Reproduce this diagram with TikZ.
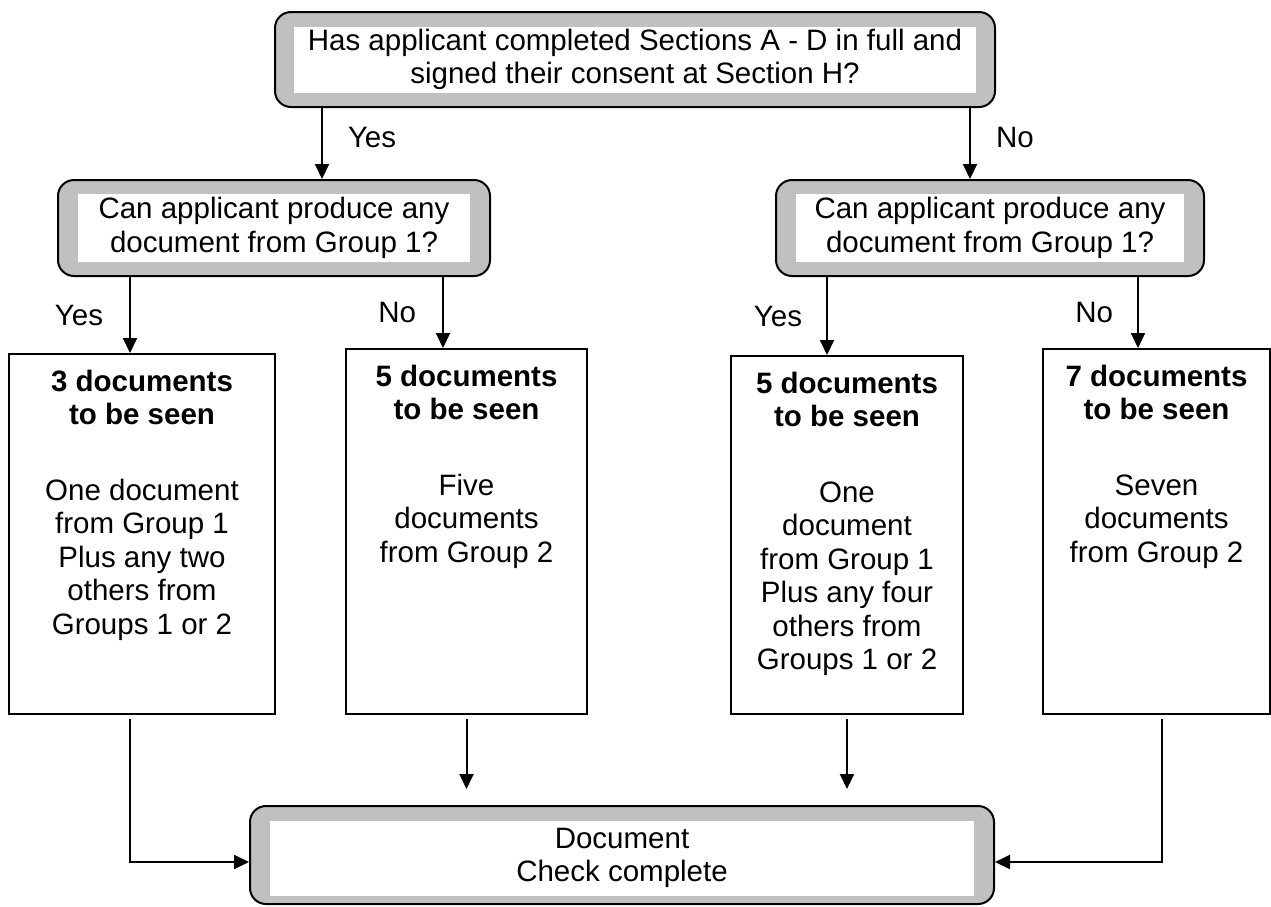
\documentclass[tikz,border=0pt]{standalone}
\usepackage{fontspec}
\setmainfont{Liberation Sans}
\usetikzlibrary{positioning,arrows.meta}
\definecolor{abu}{HTML}{C0C0C0}
\begin{document}
\begin{tikzpicture}[x=1pt, y=-1pt, line width=2pt,
      font=\fontsize{29.5}{33.5}\selectfont,
      bingkai/.style={draw, fill=abu, rounded corners=16pt},
      isi/.style={fill=white, align=center, inner sep=0pt},
      kotak/.style={draw, fill=white},
      teks/.style={align=center, inner sep=0pt},
      ket/.style={inner sep=0pt},
      panah/.style={-{Triangle[length=15pt, width=14pt]}}]
    \useasboundingbox (0,0) rectangle (1271,906);
    % pertanyaan
    \node[bingkai, minimum width=720pt, minimum height=95pt] (cek) at (635,59.5) {};
    \node[isi, minimum width=682pt, minimum height=66pt] (cek-isi) at (cek) {Has applicant completed Sections A - D in full and\\signed their consent at Section H?};
    \node[bingkai, minimum width=432pt, minimum height=96pt] (grupkiri) at (274,228) {};
    \node[isi, minimum width=392pt, minimum height=68pt] (grupkiri-isi) at (grupkiri) {Can applicant produce any\\document from Group 1?};
    \node[bingkai, minimum width=428pt, minimum height=96pt] (grupkanan) at (990,228) {};
    \node[isi, minimum width=388pt, minimum height=68pt] (grupkanan-isi) at (grupkanan) {Can applicant produce any\\document from Group 1?};
    % hasil
    \node[kotak, minimum width=266pt, minimum height=360pt] (tiga) at (142,534) {};
    \node[teks, below=16pt of tiga.north] (tiga-isi) {\textbf{3 documents}\\\textbf{to be seen}\\[42pt]One document\\from Group 1\\Plus any two\\others from\\Groups 1 or 2};
    \node[kotak, minimum width=241pt, minimum height=365pt] (limaa) at (466.5,531.5) {};
    \node[teks, below=16pt of limaa.north] (limaa-isi) {\textbf{5 documents}\\\textbf{to be seen}\\[42pt]Five\\documents\\from Group 2};
    \node[kotak, minimum width=232pt, minimum height=358pt] (limab) at (847,535) {};
    \node[teks, below=16pt of limab.north] (limab-isi) {\textbf{5 documents}\\\textbf{to be seen}\\[42pt]One\\document\\from Group 1\\Plus any four\\others from\\Groups 1 or 2};
    \node[kotak, minimum width=227pt, minimum height=365pt] (tujuh) at (1156.5,531.5) {};
    \node[teks, below=16pt of tujuh.north] (tujuh-isi) {\textbf{7 documents}\\\textbf{to be seen}\\[42pt]Seven\\documents\\from Group 2};
    \node[bingkai, minimum width=744pt, minimum height=98pt] (selesai) at (622,855) {};
    \node[isi, minimum width=704pt, minimum height=75pt] (selesai-isi) at ([yshift=-3pt]selesai.center) {Document\\Check complete};
    % panah
    \draw[panah] ([xshift=-313pt]cek.south) -- ([xshift=-313pt]cek.south |- grupkiri.north) node[ket, pos=0.42, right=25pt] {Yes};
    \draw[panah] ([xshift=335pt]cek.south) -- ([xshift=335pt]cek.south |- grupkanan.north) node[ket, pos=0.42, right=25pt] {No};
    \draw[panah] ([xshift=-144pt]grupkiri.south) -- ([xshift=-144pt]grupkiri.south |- tiga.north) node[ket, midway, left=26pt] {Yes};
    \draw[panah] ([xshift=169pt]grupkiri.south) -- ([xshift=169pt]grupkiri.south |- limaa.north) node[ket, midway, left=26pt] {No};
    \draw[panah] ([xshift=-163pt]grupkanan.south) -- ([xshift=-163pt]grupkanan.south |- limab.north) node[ket, midway, left=24pt] {Yes};
    \draw[panah] ([xshift=148pt]grupkanan.south) -- ([xshift=148pt]grupkanan.south |- tujuh.north) node[ket, midway, left=24pt] {No};
    \draw[panah, shorten <=4pt] ([xshift=-12pt]tiga.south) |- ([yshift=-7pt]selesai.west);
    \draw[panah, shorten <=4pt, shorten >=16pt] (limaa.south) -- (limaa.south |- selesai.north);
    \draw[panah, shorten <=4pt, shorten >=16pt] (limab.south) -- (limab.south |- selesai.north);
    \draw[panah, shorten <=4pt] ([xshift=5.5pt]tujuh.south) |- ([yshift=-7pt]selesai.east);
  \end{tikzpicture}
\end{document}
